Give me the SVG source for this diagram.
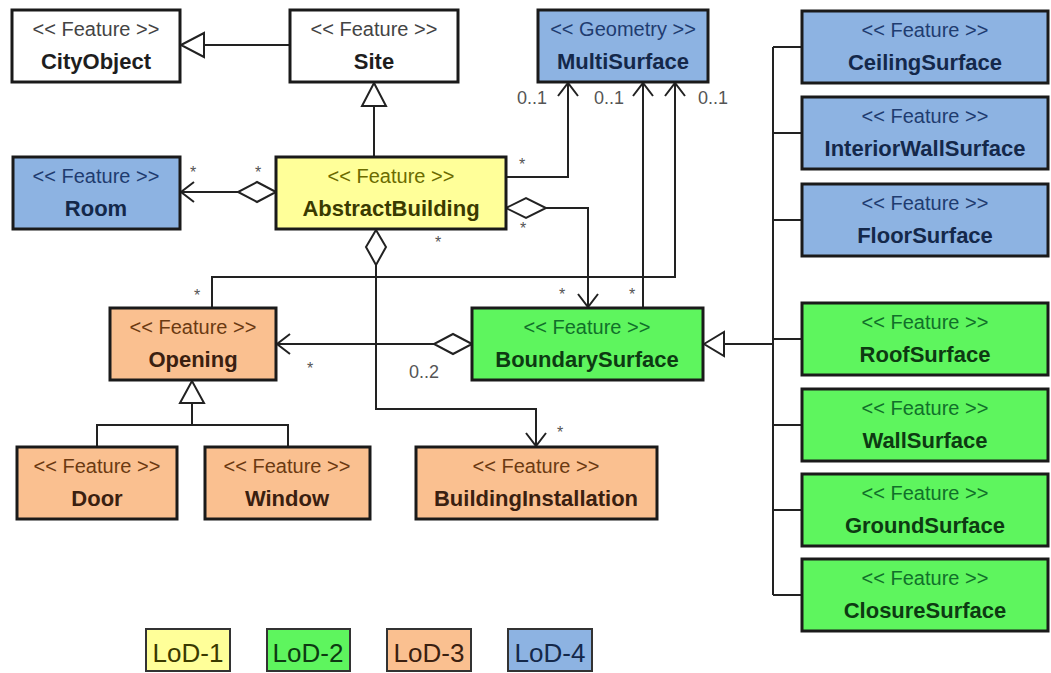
<svg xmlns="http://www.w3.org/2000/svg" width="1051" height="673" viewBox="0 0 1051 673">
  <style>
    .box { stroke: #1a1a1a; stroke-width: 3; }
    .white { fill: #ffffff; }
    .yellow { fill: #ffff99; }
    .blue { fill: #8db3e2; }
    .orange { fill: #fac090; }
    .green { fill: #5ef55e; }
    text { font-family: "Liberation Sans", Arial, sans-serif; text-anchor: middle; }
    .st { font-size: 20px; }
    .nm { font-size: 22px; font-weight: bold; }
    .st.w { fill: #444444; } .nm.w { fill: #1e1e1e; }
    .st.y { fill: #6b6b00; } .nm.y { fill: #3a3a00; }
    .st.b { fill: #1f3c70; } .nm.b { fill: #14284a; }
    .st.o { fill: #6b3a12; } .nm.o { fill: #3a2010; }
    .st.g { fill: #11702a; } .nm.g { fill: #0d3a12; }
    .ln { fill: none; stroke: #222222; stroke-width: 2; }
    .hollow { fill: #ffffff; stroke: #222222; stroke-width: 2; }
    .mult { font-size: 18px; fill: #555555; }
    .star { font-size: 16px; fill: #555555; }
    .legend { font-size: 26px; }
  </style>

  <!-- connectors -->
  <g id="connectors">
    <!-- Site generalises CityObject -->
    <polyline class="ln" points="290,45 204,45"/>
    <polygon class="hollow" points="181,45 204,33 204,57"/>
    <!-- AbstractBuilding generalises Site -->
    <polyline class="ln" points="374,157 374,106"/>
    <polygon class="hollow" points="374,83 362,106 386,106"/>

    <!-- AbstractBuilding aggregates Room -->
    <polyline class="ln" points="238,192 181,192"/>
    <polyline class="ln" points="194,182 181,192 194,202"/>
    <polygon class="hollow" points="276,192 257,182 238,192 257,202"/>

    <!-- AbstractBuilding to MultiSurface -->
    <polyline class="ln" points="506,177 568,177 568,83"/>
    <polyline class="ln" points="558,96 568,83 578,96"/>

    <!-- AbstractBuilding aggregates BoundarySurface -->
    <polyline class="ln" points="546,208 588,208 588,307"/>
    <polyline class="ln" points="578,294 588,307 598,294"/>
    <polygon class="hollow" points="506,208 526,198 546,208 526,218"/>

    <!-- AbstractBuilding aggregates BuildingInstallation -->
    <polyline class="ln" points="376,265 376,409 536,409 536,446"/>
    <polyline class="ln" points="526,433 536,446 546,433"/>
    <polygon class="hollow" points="376,230 386,247 376,265 366,247"/>

    <!-- Opening to MultiSurface -->
    <polyline class="ln" points="212,308 212,277 675,277 675,83"/>
    <polyline class="ln" points="665,96 675,83 685,96"/>

    <!-- BoundarySurface to MultiSurface -->
    <polyline class="ln" points="643,308 643,83"/>
    <polyline class="ln" points="633,96 643,83 653,96"/>

    <!-- BoundarySurface aggregates Opening -->
    <polyline class="ln" points="434,344 277,344"/>
    <polyline class="ln" points="290,334 277,344 290,354"/>
    <polygon class="hollow" points="472,344 453,334 434,344 453,354"/>

    <!-- Door and Window generalise Opening -->
    <polyline class="ln" points="97,447 97,425 288,425 288,447"/>
    <polyline class="ln" points="192,425 192,403"/>
    <polygon class="hollow" points="192,381 180,403 204,403"/>

    <!-- thematic surfaces generalise BoundarySurface -->
    <polyline class="ln" points="724,344 773,344"/>
    <polyline class="ln" points="773,47 773,595"/>
    <polyline class="ln" points="773,47 802,47"/>
    <polyline class="ln" points="773,133 802,133"/>
    <polyline class="ln" points="773,220 802,220"/>
    <polyline class="ln" points="773,339 802,339"/>
    <polyline class="ln" points="773,425 802,425"/>
    <polyline class="ln" points="773,510 802,510"/>
    <polyline class="ln" points="773,595 802,595"/>
    <polygon class="hollow" points="704,344 724,332 724,356"/>

    <!-- multiplicities -->
    <text class="star" x="193" y="178">*</text>
    <text class="star" x="258" y="178">*</text>
    <text class="star" x="522" y="170">*</text>
    <text class="star" x="523" y="234">*</text>
    <text class="star" x="438" y="248">*</text>
    <text class="star" x="562" y="300">*</text>
    <text class="star" x="632" y="300">*</text>
    <text class="star" x="197" y="301">*</text>
    <text class="star" x="310" y="374">*</text>
    <text class="star" x="560" y="438">*</text>
    <text class="mult" x="532" y="104">0..1</text>
    <text class="mult" x="609" y="104">0..1</text>
    <text class="mult" x="713" y="104">0..1</text>
    <text class="mult" x="424" y="378">0..2</text>
  </g>

  <!-- classes -->
  <g id="CityObject">
    <rect class="box white" x="12" y="10" width="168" height="72"/>
    <text class="st w" x="96" y="36">&lt;&lt; Feature &gt;&gt;</text>
    <text class="nm w" x="96" y="69">CityObject</text>
  </g>
  <g id="Site">
    <rect class="box white" x="290" y="10" width="168" height="72"/>
    <text class="st w" x="374" y="36">&lt;&lt; Feature &gt;&gt;</text>
    <text class="nm w" x="374" y="69">Site</text>
  </g>
  <g id="MultiSurface">
    <rect class="box blue" x="538" y="10" width="170" height="72"/>
    <text class="st b" x="623" y="36">&lt;&lt; Geometry &gt;&gt;</text>
    <text class="nm b" x="623" y="69">MultiSurface</text>
  </g>
  <g id="Room">
    <rect class="box blue" x="13" y="157" width="167" height="72"/>
    <text class="st b" x="96" y="183">&lt;&lt; Feature &gt;&gt;</text>
    <text class="nm b" x="96" y="216">Room</text>
  </g>
  <g id="AbstractBuilding">
    <rect class="box yellow" x="276" y="157" width="230" height="72"/>
    <text class="st y" x="391" y="183">&lt;&lt; Feature &gt;&gt;</text>
    <text class="nm y" x="391" y="216">AbstractBuilding</text>
  </g>
  <g id="Opening">
    <rect class="box orange" x="110" y="308" width="166" height="72"/>
    <text class="st o" x="193" y="334">&lt;&lt; Feature &gt;&gt;</text>
    <text class="nm o" x="193" y="367">Opening</text>
  </g>
  <g id="BoundarySurface">
    <rect class="box green" x="472" y="308" width="231" height="72"/>
    <text class="st g" x="587" y="334">&lt;&lt; Feature &gt;&gt;</text>
    <text class="nm g" x="587" y="367">BoundarySurface</text>
  </g>
  <g id="Door">
    <rect class="box orange" x="17" y="447" width="160" height="72"/>
    <text class="st o" x="97" y="473">&lt;&lt; Feature &gt;&gt;</text>
    <text class="nm o" x="97" y="506">Door</text>
  </g>
  <g id="Window">
    <rect class="box orange" x="205" y="447" width="165" height="72"/>
    <text class="st o" x="287" y="473">&lt;&lt; Feature &gt;&gt;</text>
    <text class="nm o" x="287" y="506">Window</text>
  </g>
  <g id="BuildingInstallation">
    <rect class="box orange" x="416" y="447" width="241" height="72"/>
    <text class="st o" x="536" y="473">&lt;&lt; Feature &gt;&gt;</text>
    <text class="nm o" x="536" y="506">BuildingInstallation</text>
  </g>
  <g id="CeilingSurface">
    <rect class="box blue" x="802" y="11" width="246" height="72"/>
    <text class="st b" x="925" y="37">&lt;&lt; Feature &gt;&gt;</text>
    <text class="nm b" x="925" y="70">CeilingSurface</text>
  </g>
  <g id="InteriorWallSurface">
    <rect class="box blue" x="802" y="97" width="246" height="72"/>
    <text class="st b" x="925" y="123">&lt;&lt; Feature &gt;&gt;</text>
    <text class="nm b" x="925" y="156">InteriorWallSurface</text>
  </g>
  <g id="FloorSurface">
    <rect class="box blue" x="802" y="184" width="246" height="72"/>
    <text class="st b" x="925" y="210">&lt;&lt; Feature &gt;&gt;</text>
    <text class="nm b" x="925" y="243">FloorSurface</text>
  </g>
  <g id="RoofSurface">
    <rect class="box green" x="802" y="303" width="246" height="72"/>
    <text class="st g" x="925" y="329">&lt;&lt; Feature &gt;&gt;</text>
    <text class="nm g" x="925" y="362">RoofSurface</text>
  </g>
  <g id="WallSurface">
    <rect class="box green" x="802" y="389" width="246" height="72"/>
    <text class="st g" x="925" y="415">&lt;&lt; Feature &gt;&gt;</text>
    <text class="nm g" x="925" y="448">WallSurface</text>
  </g>
  <g id="GroundSurface">
    <rect class="box green" x="802" y="474" width="246" height="72"/>
    <text class="st g" x="925" y="500">&lt;&lt; Feature &gt;&gt;</text>
    <text class="nm g" x="925" y="533">GroundSurface</text>
  </g>
  <g id="ClosureSurface">
    <rect class="box green" x="802" y="559" width="246" height="72"/>
    <text class="st g" x="925" y="585">&lt;&lt; Feature &gt;&gt;</text>
    <text class="nm g" x="925" y="618">ClosureSurface</text>
  </g>

  <!-- legend -->
  <g id="legend-lod1">
    <rect x="146" y="629" width="84" height="42" fill="#ffff99" stroke="#333" stroke-width="2"/>
    <text class="legend" x="188" y="662" fill="#3a3a00">LoD-1</text>
  </g>
  <g id="legend-lod2">
    <rect x="267" y="629" width="83" height="42" fill="#5ef55e" stroke="#333" stroke-width="2"/>
    <text class="legend" x="308" y="662" fill="#0d3a12">LoD-2</text>
  </g>
  <g id="legend-lod3">
    <rect x="387" y="629" width="84" height="42" fill="#fac090" stroke="#333" stroke-width="2"/>
    <text class="legend" x="429" y="662" fill="#3a2010">LoD-3</text>
  </g>
  <g id="legend-lod4">
    <rect x="508" y="629" width="84" height="42" fill="#8db3e2" stroke="#333" stroke-width="2"/>
    <text class="legend" x="550" y="662" fill="#14284a">LoD-4</text>
  </g>
</svg>
